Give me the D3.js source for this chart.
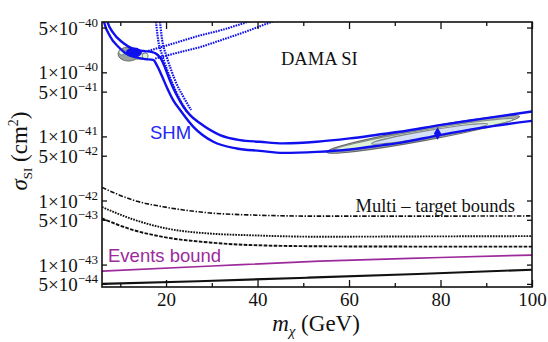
<!DOCTYPE html>
<html>
<head>
<meta charset="utf-8">
<script src="https://cdn.jsdelivr.net/npm/d3@7"></script>
<style>
  html, body { margin: 0; padding: 0; background: #fff; }
  svg { display: block; }
  .serif { font-family: "Liberation Serif", "Times New Roman", serif; }
  .sans  { font-family: "Liberation Sans", Arial, Helvetica, sans-serif; }
</style>
</head>
<body>
<div id="chart"></div>
<script>
// ------------------------------------------------------------
// Data (mass in GeV, cross section in cm^2)
// ------------------------------------------------------------

var xDomain = [6, 100];
var yDomain = [4.47e-44, 6.1e-40];

var xMajorTicks = [20, 40, 60, 80, 100];
var xMinorTicks = [10, 30, 50, 70, 90];
var yTicks = [5e-40, 1e-40, 5e-41, 1e-41, 5e-42, 1e-42, 5e-43, 1e-43, 5e-44];

// multi-target bounds
var boundMass   = [6, 12.9, 20.2, 29.6, 38.3, 53.6, 75, 100];
var boundDashDot = [1.6e-42, 1.01e-42, 7.8e-43, 6.4e-43, 5.95e-43, 5.7e-43, 5.7e-43, 5.75e-43];
var boundDotted  = [7.9e-43, 5.05e-43, 3.65e-43, 3.05e-43, 2.87e-43, 2.72e-43, 2.75e-43, 2.78e-43];
var boundDashed  = [5.25e-43, 3.45e-43, 2.64e-43, 2.21e-43, 2.02e-43, 1.93e-43, 1.91e-43, 1.91e-43];

// events bound (purple)
var eventsMass  = [6, 30, 53.6, 80, 100];
var eventsBound = [7.9e-44, 9.5e-44, 1.13e-43, 1.29e-43, 1.41e-43];

// lowest solid black bound
var floorMass  = [6, 27, 51, 75, 100];
var floorBound = [5.0e-44, 5.5e-44, 6.25e-44, 7.15e-44, 8.3e-44];

// SHM contour, two solid blue lines
var shmUpper = [[6.83, 8.15e-40], [7.09, 6.56e-40], [8.46, 4.11e-40], [10.65, 2.87e-40],
  [12.83, 2.31e-40], [15.01, 2.15e-40], [16.97, 2.07e-40], [18.06, 1.90e-40],
  [18.93, 1.61e-40], [19.80, 1.17e-40], [20.90, 7.31e-41], [22.21, 4.58e-41],
  [23.80, 2.90e-41], [25.26, 2.15e-41], [27.44, 1.60e-41], [31.80, 1.05e-41],
  [36.16, 8.75e-42], [40.52, 8.24e-42], [45.54, 7.78e-42], [52.96, 8.24e-42],
  [60.15, 9.31e-42], [67.35, 1.09e-41], [71.06, 1.18e-41], [79.79, 1.50e-41],
  [88.51, 1.86e-41], [100, 2.45e-41]];
var shmLower = [[6.17, 8.15e-40], [6.35, 6.56e-40], [7.81, 3.60e-40], [9.56, 2.51e-40],
  [11.08, 2.00e-40], [13.26, 1.73e-40], [15.44, 1.61e-40], [17.19, 1.56e-40],
  [18.06, 1.26e-40], [19.15, 8.6e-41], [20.24, 5.69e-41], [21.55, 3.69e-41],
  [23.08, 2.58e-41], [25.98, 1.41e-41], [30.34, 8.24e-42], [35.44, 6.49e-42],
  [40.53, 5.96e-42], [45.61, 5.54e-42], [52.89, 5.74e-42], [60.16, 6.26e-42],
  [67.42, 7.31e-42], [71.06, 7.94e-42], [79.79, 1.05e-41], [88.51, 1.35e-41],
  [100, 1.75e-41]];

// dotted blue lines
var dotSteepA = [[17.62, 8.15e-40], [18.28, 3.20e-40], [19.15, 1.86e-40], [20.24, 1.09e-40],
  [21.55, 6.34e-41], [23.08, 3.69e-41], [24.60, 2.40e-41]];
var dotSteepB = [[18.50, 8.15e-40], [19.15, 3.20e-40], [20.02, 1.86e-40], [21.11, 1.09e-40],
  [22.42, 6.34e-41], [23.95, 3.96e-41], [25.48, 2.58e-41]];
var dotRiseA = [[16.10, 2.15e-40], [21.99, 2.87e-40], [27.44, 3.76e-40], [31.80, 4.50e-40],
  [36.82, 5.79e-40], [39.44, 6.68e-40]];
var dotRiseB = [[17.62, 1.64e-40], [23.08, 2.07e-40], [27.44, 2.48e-40], [31.80, 3.14e-40],
  [37.25, 4.27e-40], [42.27, 5.83e-40], [44.45, 6.68e-40]];

// DAMA fit regions near 80 GeV: [m1, sigma1, m2, sigma2, half width in decades]
var highGray  = [55.14, 5.69e-42, 97.23, 2.04e-41, 0.10];
var highGreen = [56.88, 6.22e-42, 95.92, 1.86e-41, 0.07];
var highBlue  = [64.95, 7.72e-42, 90.25, 1.556e-41, 0.055];

// DAMA fit regions near 12 GeV: [m, sigma, half width GeV, half height decades]
var lowGray   = [11.80, 1.93e-40, 2.3, 0.11];
var lowBlue   = [12.95, 2.04e-40, 1.74, 0.078];
var lowGreens = [[10.32, 2.07e-40], [13.70, 1.77e-40], [14.57, 1.77e-40], [15.44, 1.80e-40]];

// best fit point
var bestFit = [79.35, 1.11e-41];

(function (window) {

  var width = 548,
      height = 342,

      // plot area edges, in pixels
      left = 102, right = 532, top = 22, bottom = 287,

      blue = "#1010ee",
      purple = "#9c2a9c",

      svg, plot, x, y, line, pxPerDecade;

  // ------------------------------------------------------------
  //
  // Setup
  //
  // ------------------------------------------------------------

  svg = d3.select("#chart").append("svg")
    .attr("width", width)
    .attr("height", height);

  x = d3.scaleLinear().domain(xDomain).range([left, right]);
  y = d3.scaleLog().domain(yDomain).range([bottom, top]);
  pxPerDecade = y(1e-41) - y(1e-40);

  line = d3.line()
    .x(function (d) { return x(d[0]); })
    .y(function (d) { return y(d[1]); })
    .curve(d3.curveMonotoneX);

  svg.append("clipPath").attr("id", "clip")
    .append("rect")
    .attr("x", left).attr("y", top)
    .attr("width", right - left).attr("height", bottom - top);

  plot = svg.append("g").attr("clip-path", "url(#clip)");

  function zip(ms, vs) {
    return ms.map(function (m, i) { return [m, vs[i]]; });
  }

  // ------------------------------------------------------------
  //
  // Regions
  //
  // ------------------------------------------------------------

  function longEllipse(e, fill, stroke) {
    var x1 = x(e[0]), y1 = y(e[1]), x2 = x(e[2]), y2 = y(e[3]),
        cx = (x1 + x2) / 2, cy = (y1 + y2) / 2,
        rx = Math.sqrt((x2 - x1) * (x2 - x1) + (y2 - y1) * (y2 - y1)) / 2,
        ang = Math.atan2(y2 - y1, x2 - x1) * 180 / Math.PI;
    plot.append("ellipse")
      .attr("cx", 0).attr("cy", 0)
      .attr("rx", rx).attr("ry", e[4] * pxPerDecade)
      .attr("transform", "translate(" + cx + "," + cy + ") rotate(" + ang + ")")
      .attr("fill", fill)
      .attr("stroke", stroke)
      .attr("stroke-width", 1.2);
  }

  function blob(b, fill, stroke) {
    var cx = x(b[0]), cy = y(b[1]);
    plot.append("ellipse")
      .attr("cx", cx).attr("cy", cy)
      .attr("rx", x(b[0] + b[2]) - cx)
      .attr("ry", cy - y(b[1] * Math.pow(10, b[3])))
      .attr("fill", fill)
      .attr("stroke", stroke)
      .attr("stroke-width", 1);
  }

  longEllipse(highGray, "#a3aaa8", "#666b69");
  longEllipse(highGreen, "#dcf3d6", "#858b89");
  longEllipse(highBlue, "#d3e0f7", "#858b89");

  blob(lowGray, "#9aa29f", "#6a6f6d");
  lowGreens.forEach(function (g) {
    blob([g[0], g[1], 0.65, 0.047], "#dcf3d6", "#7d8381");
  });
  blob(lowBlue, blue, "none");

  // ------------------------------------------------------------
  //
  // Bounds
  //
  // ------------------------------------------------------------

  function drawLine(data, color, w, dash) {
    plot.append("path")
      .datum(data)
      .attr("d", line)
      .attr("fill", "none")
      .attr("stroke", color)
      .attr("stroke-width", w)
      .attr("stroke-dasharray", dash || null);
  }

  drawLine(zip(boundMass, boundDashDot), "#111", 1.6, "4.5,1.6,1.4,1.6");
  drawLine(zip(boundMass, boundDotted), "#111", 1.9, "1.7,1.1");
  drawLine(zip(boundMass, boundDashed), "#111", 1.9, "3.6,1.4");
  drawLine(zip(eventsMass, eventsBound), purple, 1.7);
  drawLine(zip(floorMass, floorBound), "#111", 2.1);

  // SHM contours
  drawLine(dotSteepA, blue, 2.2, "1.6,1");
  drawLine(dotSteepB, blue, 2.2, "1.6,1");
  drawLine(dotRiseA, blue, 2.1, "1.6,1");
  drawLine(dotRiseB, blue, 2.1, "1.6,1");
  drawLine(shmUpper, blue, 2.4);
  drawLine(shmLower, blue, 2.4);

  // best fit diamond
  plot.append("path")
    .attr("d", d3.symbol().type(d3.symbolDiamond).size(45))
    .attr("transform", "translate(" + x(bestFit[0]) + "," + y(bestFit[1]) + ")")
    .attr("fill", blue);

  // ------------------------------------------------------------
  //
  // Axes
  //
  // ------------------------------------------------------------

  function styleAxis(g) {
    g.select(".domain").remove();
    g.selectAll(".tick line").attr("stroke", "#111").attr("stroke-width", 1.3);
  }

  svg.append("g")
    .attr("transform", "translate(0," + bottom + ")")
    .call(d3.axisBottom(x).tickValues(xMajorTicks).tickSize(-7).tickPadding(6))
    .call(styleAxis)
    .selectAll("text")
      .attr("class", "serif")
      .attr("font-size", 19)
      .attr("fill", "#111");

  svg.append("g")
    .attr("transform", "translate(0," + bottom + ")")
    .call(d3.axisBottom(x).tickValues(xMinorTicks).tickSize(-4).tickFormat(""))
    .call(styleAxis);

  svg.append("g")
    .attr("transform", "translate(0," + top + ")")
    .call(d3.axisTop(x).tickValues(xMajorTicks).tickSize(-7).tickFormat(""))
    .call(styleAxis);

  svg.append("g")
    .attr("transform", "translate(0," + top + ")")
    .call(d3.axisTop(x).tickValues(xMinorTicks).tickSize(-4).tickFormat(""))
    .call(styleAxis);

  svg.append("g")
    .attr("transform", "translate(" + left + ",0)")
    .call(d3.axisLeft(y).tickValues(yTicks).tickSize(-5).tickFormat(""))
    .call(styleAxis);

  svg.append("g")
    .attr("transform", "translate(" + right + ",0)")
    .call(d3.axisRight(y).tickValues(yTicks).tickSize(-5).tickFormat(""))
    .call(styleAxis);

  // y tick labels as a×10^b
  svg.append("g")
    .selectAll("text")
    .data(yTicks)
    .enter()
      .append("text")
      .attr("class", "serif")
      .attr("x", left - 4)
      .attr("y", function (d) { return y(d) + 7; })
      .attr("text-anchor", "end")
      .attr("font-size", 19)
      .attr("fill", "#111")
      .each(function (d) {
        var e = Math.floor(Math.log10(d) + 1e-9),
            m = Math.round(d / Math.pow(10, e)),
            t = d3.select(this);
        t.append("tspan").text(m + "×10");
        t.append("tspan").attr("dy", -8).attr("font-size", 13).text("\u2212" + (-e));
      });

  // frame
  svg.append("rect")
    .attr("x", left).attr("y", top)
    .attr("width", right - left).attr("height", bottom - top)
    .attr("fill", "none")
    .attr("stroke", "#111")
    .attr("stroke-width", 1.6);

  // ------------------------------------------------------------
  //
  // Titles and labels
  //
  // ------------------------------------------------------------

  var xt = svg.append("text")
    .attr("class", "serif")
    .attr("x", 316).attr("y", 331)
    .attr("text-anchor", "middle")
    .attr("font-size", 23)
    .attr("fill", "#111");
  xt.append("tspan").attr("font-style", "italic").text("m");
  xt.append("tspan").attr("font-style", "italic").attr("font-size", 15).attr("dy", 5).text("χ");
  xt.append("tspan").attr("dy", -5).text(" (GeV)");

  var yt = svg.append("text")
    .attr("class", "serif")
    .attr("transform", "translate(27,151) rotate(-90)")
    .attr("text-anchor", "middle")
    .attr("font-size", 23)
    .attr("fill", "#111");
  yt.append("tspan").attr("font-style", "italic").text("σ");
  yt.append("tspan").attr("font-size", 13).attr("dy", 5).text("SI");
  yt.append("tspan").attr("dy", -5).text(" (cm");
  yt.append("tspan").attr("font-size", 14).attr("dy", -9).text("2");
  yt.append("tspan").attr("dy", 9).text(")");

  svg.append("text")
    .attr("class", "serif")
    .attr("x", 281).attr("y", 65)
    .attr("font-size", 18.5)
    .attr("fill", "#111")
    .text("DAMA SI");

  svg.append("text")
    .attr("class", "serif")
    .attr("x", 515).attr("y", 211.5)
    .attr("text-anchor", "end")
    .attr("font-size", 18.5)
    .attr("fill", "#111")
    .text("Multi \u2013 target bounds");

  svg.append("text")
    .attr("class", "sans")
    .attr("x", 150).attr("y", 139)
    .attr("font-size", 18.5)
    .attr("fill", "#2626f5")
    .text("SHM");

  svg.append("text")
    .attr("class", "sans")
    .attr("x", 108).attr("y", 262)
    .attr("font-size", 18.5)
    .attr("fill", purple)
    .text("Events bound");

})(window);
</script>
</body>
</html>
